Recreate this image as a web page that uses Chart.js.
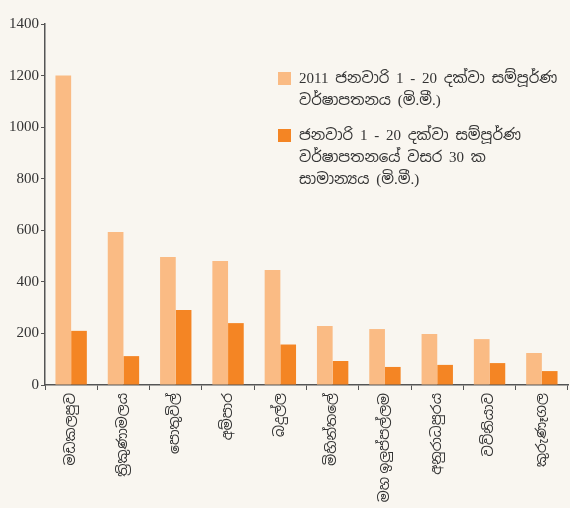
<!DOCTYPE html>
<html>
<head>
<meta charset="utf-8">
<script src="https://cdn.jsdelivr.net/npm/chart.js@4"></script>
<style>
  html, body { margin: 0; padding: 0; background: #f9f6f0; }
  #wrap { width: 570px; height: 508px; position: relative; }
</style>
</head>
<body>
<div id="wrap"><canvas id="c"></canvas></div>
<script>
const categories = ['මඩකලපුව', 'ත්‍රිකුණාමලය', 'පොතුවිල්', 'අම්පාර', 'බදුල්ල', 'මිහින්තලේ', 'මහ ඉලුප්පල්ලම', 'අනුරාධපුරය', 'වව්නියාව', 'කුරුණෑගල'];
const rain2011 = [1200, 593, 496, 481, 446, 229, 217, 198, 178, 124];
const avg30yr = [210, 112, 291, 240, 157, 93, 70, 78, 85, 54];
const yTicks = [0, 200, 400, 600, 800, 1000, 1200, 1400];
const series1Lines = ['2011 ජනවාරි 1 - 20 දක්වා සම්පූර්ණ', 'වර්ෂාපතනය (මි.මී.)'];
const series2Lines = ['ජනවාරි 1 - 20 දක්වා සම්පූර්ණ', 'වර්ෂාපතනයේ වසර 30 ක', 'සාමාන්‍යය (මි.මී.)'];

const FONT = "'Liberation Serif', 'Noto Sans Sinhala', 'Iskoola Pota', 'DejaVu Serif', serif";
const TEXT = '#333333';
const AXIS = '#555555';

const legendPlugin = {
  id: 'customLegend',
  afterDraw(chart) {
    const ctx = chart.ctx;
    ctx.save();
    ctx.font = '15px ' + FONT;
    if ('wordSpacing' in ctx) ctx.wordSpacing = '3px';
    ctx.fillStyle = TEXT;
    ctx.textBaseline = 'middle';
    const items = [
      { color: chart.data.datasets[0].backgroundColor, lines: series1Lines, y: 79 },
      { color: chart.data.datasets[1].backgroundColor, lines: series2Lines, y: 136 }
    ];
    items.forEach(it => {
      ctx.fillStyle = it.color;
      ctx.fillRect(278, it.y - 7, 13, 13);
      ctx.fillStyle = TEXT;
      it.lines.forEach((ln, i) => {
        ctx.fillText(ln, 299, it.y + i * 22);
      });
    });
    ctx.restore();
  }
};

new Chart(document.getElementById('c'), {
  type: 'bar',
  data: {
    labels: categories,
    datasets: [
      { label: series1Lines.join(' '), data: rain2011, backgroundColor: '#fabb84', categoryPercentage: 0.6, barPercentage: 1.0 },
      { label: series2Lines.join(' '), data: avg30yr, backgroundColor: '#f48524', categoryPercentage: 0.6, barPercentage: 1.0 }
    ]
  },
  options: {
    responsive: true,
    maintainAspectRatio: false,
    animation: false,
    layout: { padding: { top: 24, right: 2, left: 0, bottom: 0 } },
    plugins: { legend: { display: false }, tooltip: { enabled: false } },
    scales: {
      x: {
        grid: { display: true, drawOnChartArea: false, drawTicks: true, tickLength: 5, color: AXIS, offset: true },
        border: { display: true, color: AXIS, width: 1.5 },
        ticks: { color: TEXT, font: { family: FONT, size: 14 }, minRotation: 90, maxRotation: 90, autoSkip: false, padding: 3 },
        afterFit(scale) { scale.height = 123; }
      },
      y: {
        min: 0, max: 1400,
        afterBuildTicks(scale) { scale.ticks = yTicks.map(v => ({ value: v })); },
        grid: { display: true, drawOnChartArea: false, drawTicks: true, tickLength: 4, color: AXIS },
        border: { display: true, color: AXIS, width: 1.5 },
        ticks: { color: TEXT, font: { family: FONT, size: 15 }, padding: 2, callback: v => String(v) },
        afterFit(scale) { scale.width = 45; }
      }
    }
  },
  plugins: [legendPlugin]
});
</script>
</body>
</html>
